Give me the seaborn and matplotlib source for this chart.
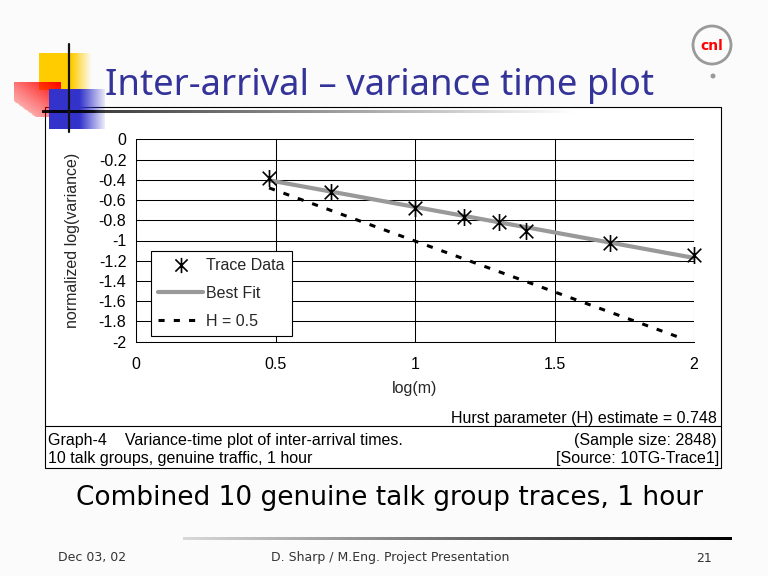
import numpy as np
import pandas as pd
import seaborn as sns
import matplotlib.pyplot as plt
from matplotlib.path import Path
from matplotlib.ticker import FuncFormatter, MultipleLocator
from matplotlib.patches import Rectangle, Circle
from matplotlib.lines import Line2D

# data
log_m = [0.477, 0.699, 1.0, 1.176, 1.301, 1.398, 1.699, 2.0]
trace_var = [-0.38, -0.52, -0.68, -0.77, -0.82, -0.905, -1.02, -1.145]
fit_x = [0.477, 2.0]
fit_y = [-0.405, -1.172]
h05_x = [0.477, 1.96]
h05_y = [-0.48, -1.97]
x_ticks = [0, 0.5, 1, 1.5, 2]

sns.set_style("white")
plt.rcParams['font.family'] = ['Liberation Sans', 'DejaVu Sans']
plt.rcParams['axes.unicode_minus'] = False

W, H = 768, 576
FS = 11.5
fig = plt.figure(figsize=(W / 100, H / 100), dpi=100, facecolor='#fbfbfb')

# background "slide" axes in pixel coordinates
bg = fig.add_axes([0, 0, 1, 1], zorder=0)
bg.set_facecolor('#fbfbfb')
bg.axis('off')


def grad(rgb, alpha):
    img = np.zeros(alpha.shape + (4,))
    img[..., :3] = rgb
    img[..., 3] = np.clip(alpha, 0, 1)
    return img


def put(img, x0, x1, y0, y1, z):
    bg.imshow(img, extent=(x0, x1, y1, y0), origin='upper', aspect='auto',
              interpolation='bilinear', zorder=z)


# chart frame
bg.add_patch(Rectangle((45, 107), 676, 361, facecolor='white',
                       edgecolor='black', lw=0.8, zorder=1))
bg.plot([45, 721], [426, 426], color='black', lw=0.8, zorder=2)

# decoration squares
u = np.linspace(0, 1, 60)
a = np.where(u < 0.62, 1.0, 1 - (u - 0.62) / 0.38)
put(grad((1, 0.8, 0), a[None, :]), 39, 92, 53, 90, 3)

uu, vv = np.meshgrid(np.linspace(0, 1, 50), np.linspace(0, 1, 40))
s = uu + (1 - vv)
a = np.where(s < 0.45, 0, 0.2 + 0.8 * (s / 2) ** 1.2)
put(grad((1, 0, 0), a), 14, 61, 82, 117, 4)

a = np.where(u < 0.55, 1.0, 1 - 0.9 * (u - 0.55) / 0.45)
put(grad((0.2, 0.2, 0.8), a[None, :]), 49, 105, 89, 129, 5)

line_a = np.concatenate([np.ones(10), np.linspace(0.85, 0.0, 90)])
put(grad((0, 0, 0), 0.9 * line_a[None, :]), 42, 580, 110.5, 113.5, 6)
bg.plot([69, 69], [44, 132], color='#111111', lw=1.6, zorder=7)

# footer gradient line
g = np.linspace(0.85, 0.0, 120)
foot = np.stack([g, g, g], axis=-1)[None, :, :]
put(grad(foot, np.ones((1, 120))), 183, 732, 537.5, 540.5, 3)

# logo
bg.add_patch(Circle((712, 45), 19, facecolor='none', edgecolor='#9a9a9a', lw=2, zorder=3))
bg.add_patch(Circle((713, 76), 2.5, facecolor='#9a9a9a', edgecolor='none', zorder=3))
bg.text(712, 46, 'cnl', color='red', fontsize=10, fontweight='bold', ha='center',
        va='center', family='DejaVu Sans', zorder=4)

bg.set_xlim(0, W)
bg.set_ylim(H, 0)

renderer = fig.canvas.get_renderer()


def fit_width(t, width_px):
    w = t.get_window_extent(renderer).width
    t.set_fontsize(t.get_fontsize() * width_px / w)


title = bg.text(105, 95, 'Inter-arrival \u2013 variance time plot', color='#333399',
                fontsize=26, ha='left', va='baseline', family='Noto Sans', zorder=8)
fit_width(title, 549)
sub = bg.text(390, 505, 'Combined 10 genuine talk group traces, 1 hour', color='black',
              fontsize=17, ha='center', va='baseline', family='DejaVu Sans', zorder=8)
fit_width(sub, 625)

fkw = dict(fontsize=9, color='#333333', va='center', family='DejaVu Sans')
bg.text(58, 558, 'Dec 03, 02', ha='left', **fkw)
bg.text(390, 558, 'D. Sharp / M.Eng. Project Presentation', ha='center', **fkw)
bg.text(712, 558, '21', ha='right', **fkw)

tkw = dict(fontsize=FS, color='black', va='center')
bg.text(717, 418, 'Hurst parameter (H) estimate = 0.748', ha='right', **tkw)
bg.text(48, 440, 'Graph-4    Variance-time plot of inter-arrival times.', ha='left', **tkw)
bg.text(717, 440, '(Sample size: 2848)', ha='right', **tkw)
bg.text(48, 458, '10 talk groups, genuine traffic, 1 hour', ha='left', **tkw)
bg.text(719, 458, '[Source: 10TG-Trace1]', ha='right', **tkw)

# the chart itself
ax = fig.add_axes([136 / W, 1 - 341.7 / H, 558 / W, 202.4 / H], zorder=2)
ax.set_facecolor('white')

star = Path([(-1, -1), (1, 1), (-1, 1), (1, -1), (0, -1.25), (0, 1.25)],
            [Path.MOVETO, Path.LINETO, Path.MOVETO, Path.LINETO, Path.MOVETO, Path.LINETO])

df = pd.DataFrame({'log(m)': log_m, 'var': trace_var})
sns.lineplot(x=fit_x, y=fit_y, color='#999999', lw=3, ax=ax, zorder=3)
sns.lineplot(x=h05_x, y=h05_y, color='black', lw=2.2, ls=(0, (2, 3)), ax=ax, zorder=3)
sns.scatterplot(data=df, x='log(m)', y='var', marker=star, s=150, color='black',
                edgecolor='black', linewidth=1.2, ax=ax, zorder=4, clip_on=False)

ax.set_xlim(0, 2)
ax.set_ylim(-2, 0)
ax.set_xticks(x_ticks)
ax.yaxis.set_major_locator(MultipleLocator(0.2))
fmt = FuncFormatter(lambda v, p: f'{v + 0:g}')
ax.xaxis.set_major_formatter(fmt)
ax.yaxis.set_major_formatter(fmt)
ax.set_axisbelow(True)
ax.grid(True, color='black', lw=0.75)
for side in ['top', 'right']:
    ax.spines[side].set_visible(False)
for side in ['left', 'bottom']:
    ax.spines[side].set_color('black')
    ax.spines[side].set_linewidth(0.75)
ax.tick_params(axis='both', direction='out', length=3, width=0.75, color='black',
               labelsize=FS, labelcolor='black')
ax.tick_params(axis='y', pad=4)
ax.tick_params(axis='x', pad=8)

ax.set_xlabel('log(m)', fontsize=FS)
ax.set_ylabel('normalized log(variance)', fontsize=FS)
ax.xaxis.set_label_coords(0.5, -0.195)
ax.yaxis.set_label_coords(-0.1, 0.5)

handles = [
    Line2D([], [], ls='none', marker=star, markersize=11, color='black', mew=1.2),
    Line2D([], [], color='#999999', lw=3),
    Line2D([], [], color='black', lw=2.2, ls=(0, (2, 3))),
]
leg = ax.legend(handles, ['Trace Data', 'Best Fit', 'H = 0.5'], loc='upper left',
                bbox_to_anchor=(0.027, 0.448), borderaxespad=0, fancybox=False,
                edgecolor='black', framealpha=1, fontsize=FS, handlelength=2.8,
                handletextpad=0.2, labelspacing=0.8, borderpad=0.45)
leg.get_frame().set_linewidth(0.8)

fig.savefig('out.png', dpi=100, facecolor=fig.get_facecolor())
